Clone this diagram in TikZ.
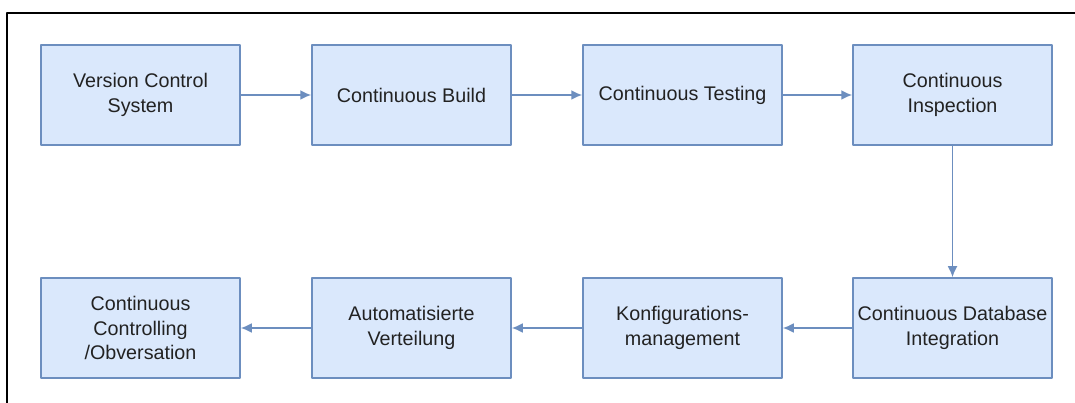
\documentclass[tikz,border=0pt]{standalone}
\usepackage{fontspec}
\setmainfont{Liberation Sans}
\usetikzlibrary{arrows.meta}
\definecolor{boxfill}{HTML}{DAE8FC}
\definecolor{boxline}{HTML}{6C8EBF}
\definecolor{textgray}{HTML}{222222}
\tikzset{
  stage/.style={draw=boxline,fill=boxfill,line width=1.5bp,minimum width=199bp,minimum height=100bp,
    align=center,text=textgray,font=\fontsize{19.8}{25}\selectfont,inner sep=0pt},
  flow/.style={boxline,line width=1.8bp,-{Latex[length=11bp,width=10bp]}},
}
\begin{document}
\begin{tikzpicture}[>=latex,line join=bevel,]
\useasboundingbox (0bp,0bp) rectangle (1075bp,403bp);
%%
\draw [black,line width=1.5bp] (7bp,0bp) -- (7bp,390bp) -- (1075bp,390bp);
%
\node (node_vcs) at (140.5bp,308bp) [stage] {Version Control\\System};
  \node (node_build) at (411.5bp,308bp) [stage] {Continuous Build};
  \node (node_test) at (682.5bp,308bp) [stage] {Continuous Testing};
  \node (node_insp) at (952.5bp,308bp) [stage] {Continuous\\Inspection};
\node (node_db) at (952.5bp,75bp) [stage] {Continuous Database\\Integration};
  \node (node_conf) at (682.5bp,75bp) [stage] {Konfigurations-\\management};
  \node (node_dist) at (411.5bp,75bp) [stage] {Automatisierte\\Verteilung};
  \node (node_ctrl) at (140.5bp,75bp) [stage] {Continuous\\Controlling\\/Obversation};
%
\draw [flow] (node_vcs) -- (node_build);
  \draw [flow] (node_build) -- (node_test);
  \draw [flow] (node_test) -- (node_insp);
  \draw [flow] (node_insp) -- (node_db);
  \draw [flow] (node_db) -- (node_conf);
  \draw [flow] (node_conf) -- (node_dist);
  \draw [flow] (node_dist) -- (node_ctrl);
%
\end{tikzpicture}
\end{document}
